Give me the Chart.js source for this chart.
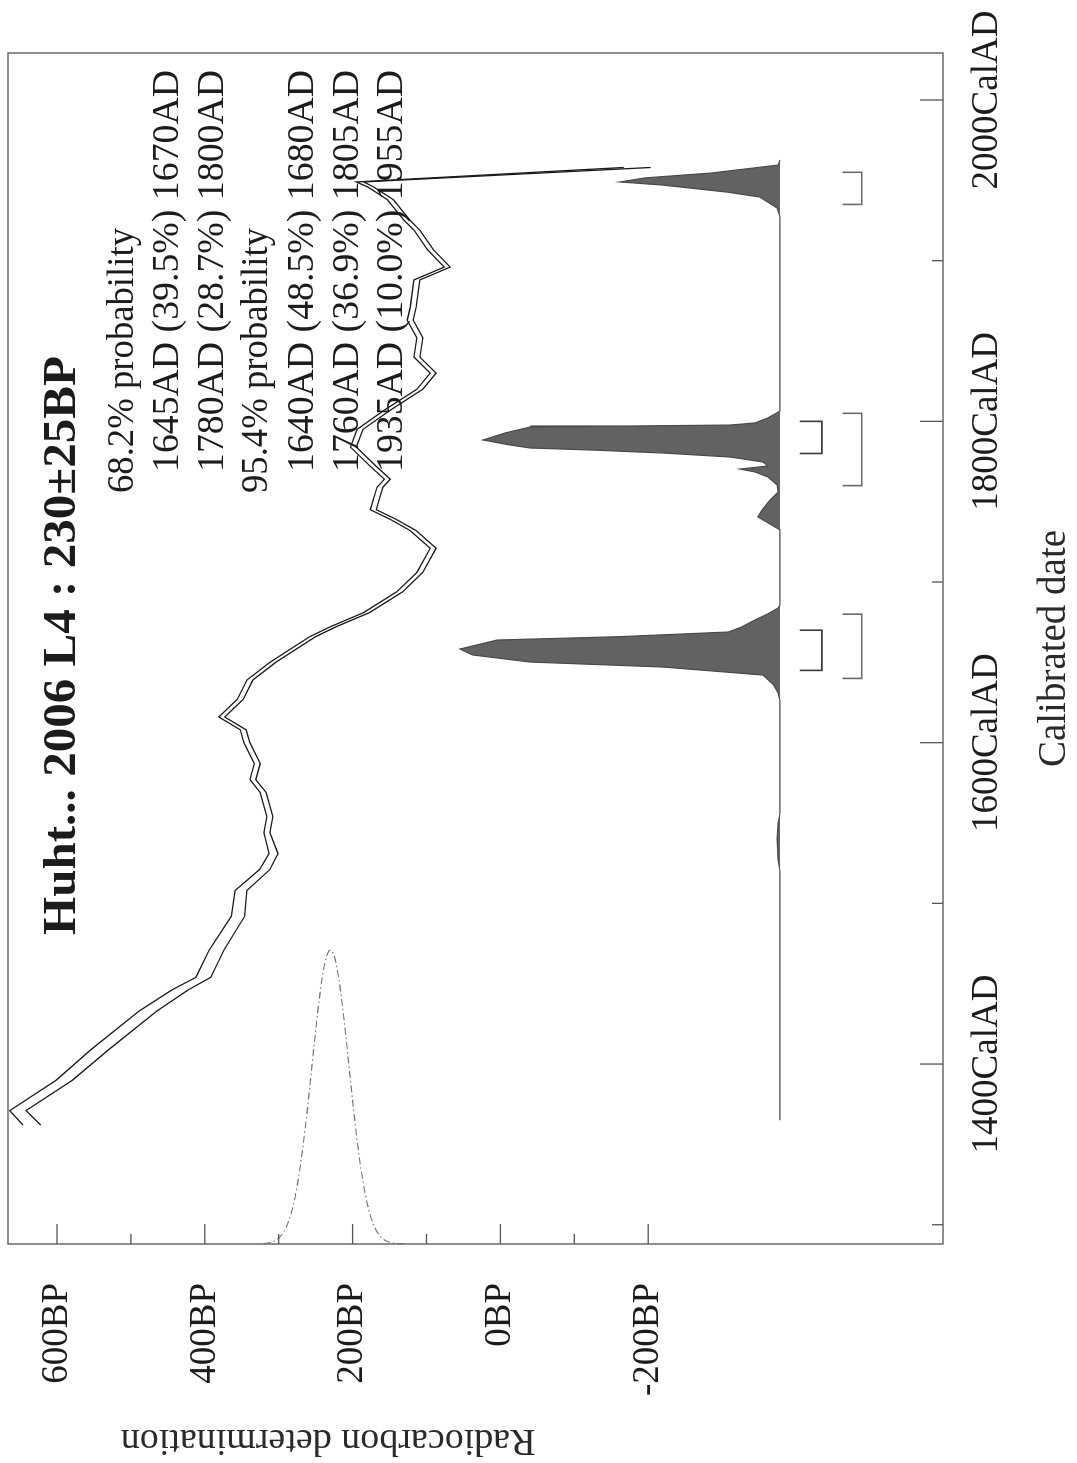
<!DOCTYPE html>
<html>
<head>
<meta charset="utf-8">
<title>Huht... 2006 L4 : 230±25BP</title>
<script src="https://cdn.jsdelivr.net/npm/chart.js@4.4.1/dist/chart.umd.min.js"></script>
<style>
  html, body { margin: 0; padding: 0; background: #ffffff; overflow: hidden; }
  body { width: 1077px; height: 1463px; position: relative; }
  /* the plot is laid out landscape and turned a quarter turn counter-clockwise */
  #wrap {
    position: absolute; left: 0; top: 0;
    width: 1463px; height: 1077px;
    transform-origin: 0 0;
    transform: translate(0px, 1463px) rotate(-90deg);
    background: #ffffff;
  }
</style>
</head>
<body>
<div id="wrap"><canvas id="c" width="1463" height="1077"></canvas></div>
<script>
// ---- sample ----
const sampleName = 'Huht... 2006 L4';
const dateBP = 230;
const dateErr = 25;

// ---- calibration curve (cal AD, BP mean, BP 1 sigma) ----
const calYears    = [1362, 1371, 1390, 1409, 1433, 1446, 1454, 1471, 1492, 1508, 1521, 1531,
                     1544, 1554, 1569, 1577, 1587, 1600, 1608, 1616, 1627, 1639, 1650, 1666,
                     1672, 1681, 1694, 1706, 1721, 1732, 1739, 1745, 1759, 1764, 1772, 1784,
                     1795, 1807, 1820, 1830, 1840, 1852, 1863, 1871, 1888, 1896, 1907, 1919,
                     1925, 1938, 1946, 1949, 1958];
const curveMeanBP = [634, 653, 590, 542, 477, 434, 402, 384, 355, 351, 319, 307,
                     316, 312, 321, 335, 329, 343, 348, 377, 352, 339, 308, 254,
                     227, 181, 136, 109, 91, 118, 145, 172, 163, 153, 172, 199,
                     190, 153, 109, 91, 113, 109, 122, 118, 113, 72, 95, 113,
                     126, 149, 176, 190, -185];
const curveSigmaBP = [12, 11, 11, 12, 12, 11, 10, 10, 9, 8, 7, 6,
                      4, 4, 4, 4, 4, 4, 4, 4, 4, 4, 4, 4,
                      4, 4, 4, 4, 4, 4, 4, 4, 4, 4, 4, 4,
                      4, 4, 4, 4, 4, 4, 4, 4, 4, 4, 4, 4,
                      4, 4, 4, 5, 18];

// ---- calibrated probability (cal AD, relative probability) ----
const probYears   = [1365, 1520, 1527, 1540, 1550, 1556, 1626, 1631, 1636, 1642.1, 1644.6, 1647.1,
                     1650.2, 1654.6, 1658.3, 1663.9, 1666, 1668.9, 1672, 1676.4, 1680, 1683.8, 1685.7,
                     1732.4, 1736.1, 1740.5, 1744.8, 1751, 1756, 1760.4, 1765.4, 1768.5, 1770.3, 1772.2,
                     1774.7, 1777.8, 1780.3, 1782.2, 1783.4, 1785.3, 1788.4, 1792.7, 1796.5, 1797.1,
                     1797.7, 1799, 1802.1, 1806.4, 1927.2, 1932.8, 1939.6, 1942.7, 1947.1, 1949,
                     1951.5, 1954.6, 1959.5, 1962.7];
const probDensity = [0, 0, 0.006, 0.009, 0.006, 0, 0, 0.006, 0.02, 0.053, 0.21, 0.366,
                     0.78, 0.96, 1.0, 0.884, 0.5, 0.16, 0.12, 0.078, 0.04, 0.006, 0,
                     0, 0.031, 0.069, 0.056, 0.031, 0.006, 0.009, 0.038, 0.078, 0.125, 0.038,
                     0.053, 0.156, 0.366, 0.594, 0.78, 0.844, 0.928, 0.86, 0.78, 0.47,
                     0.156, 0.078, 0.038, 0, 0, 0.009, 0.063, 0.166, 0.369, 0.5,
                     0.422, 0.213, 0.006, 0];

// ---- highest probability ranges ----
const range68 = [[1645, 1670], [1780, 1800]];
const range68Pct = [39.5, 28.7];
const range95 = [[1640, 1680], [1760, 1805], [1935, 1955]];
const range95Pct = [48.5, 36.9, 10.0];

// ---- axes ----
const calTickYears = [1300, 1400, 1500, 1600, 1700, 1800, 1900, 2000];
const bpTickValues = [600, 500, 400, 300, 200, 100, 0, -100, -200];

// ---- layout constants (axis units) ----
const X_MIN = 1288, X_MAX = 2029.25;
const Y_MIN = -598.9, Y_MAX = 666.3;
const DIST_BASE = -378.3, DIST_SPAN = 433;     // where the calibrated distribution sits
const GAUSS_HEIGHT = 183;                       // years of width for the BP distribution
const R68_LINE = -435, R68_TICK = -405;
const R95_LINE = -489, R95_TICK = -463;

const SERIF = '"Liberation Serif", "Times New Roman", Times, serif';

function curveLine(sign) {
  return calYears.map((yr, i) => ({ x: yr, y: curveMeanBP[i] + sign * curveSigmaBP[i] }));
}
function distData() {
  return probYears.map((yr, i) => ({ x: yr, y: DIST_BASE + probDensity[i] * DIST_SPAN }));
}
function gaussData() {
  const pts = [];
  for (let bp = dateBP - 4 * dateErr; bp <= dateBP + 4 * dateErr; bp += 2) {
    const z = (bp - dateBP) / dateErr;
    pts.push({ x: X_MIN + GAUSS_HEIGHT * Math.exp(-0.5 * z * z), y: bp });
  }
  return pts;
}
function bracketData(ranges, lineY, tickY) {
  const pts = [];
  ranges.forEach(([a, b]) => {
    pts.push({ x: a, y: tickY }, { x: a, y: lineY }, { x: b, y: lineY }, { x: b, y: tickY }, { x: b, y: null });
  });
  return pts;
}
const fmtPct = v => v.toFixed(1) + '%';

const textLines = [
  { text: '68.2% probability', head: true },
  ...range68.map((r, i) => ({ text: `${r[0]}AD (${fmtPct(range68Pct[i])}) ${r[1]}AD` })),
  { text: '95.4% probability', head: true },
  ...range95.map((r, i) => ({ text: `${r[0]}AD (${fmtPct(range95Pct[i])}) ${r[1]}AD` }))
];

function drawFitted(ctx, text, x, y, font, width) {
  ctx.save();
  ctx.font = font;
  const w = ctx.measureText(text).width;
  ctx.translate(x, y);
  if (width) ctx.scale(width / w, 1);
  ctx.fillText(text, 0, 0);
  ctx.restore();
}

const frameAndText = {
  id: 'frameAndText',
  afterDraw(chart) {
    const ctx = chart.ctx;
    const a = chart.chartArea;
    const xs = chart.scales.x, ys = chart.scales.y;
    ctx.save();
    // frame
    ctx.strokeStyle = '#6a6a6a';
    ctx.lineWidth = 1.5;
    ctx.strokeRect(a.left, a.top, a.right - a.left, a.bottom - a.top);
    // cal date ticks along the bottom, pointing inwards
    ctx.strokeStyle = '#555';
    ctx.lineWidth = 1.3;
    calTickYears.forEach(v => {
      const px = xs.getPixelForValue(v);
      const len = v % 200 === 0 ? 23 : 11;
      ctx.beginPath(); ctx.moveTo(px, a.bottom); ctx.lineTo(px, a.bottom - len); ctx.stroke();
    });
    // BP ticks along the left, pointing inwards
    bpTickValues.forEach(v => {
      const py = ys.getPixelForValue(v);
      const len = v % 200 === 0 ? 20 : 10;
      ctx.beginPath(); ctx.moveTo(a.left, py); ctx.lineTo(a.left + len, py); ctx.stroke();
    });

    ctx.fillStyle = '#1c1c1c';
    ctx.textBaseline = 'alphabetic';
    ctx.textAlign = 'left';
    // title
    drawFitted(ctx, `${sampleName} : ${dateBP}\u00b1${dateErr}BP`, 528, 75, `bold 46px ${SERIF}`, 579);
    // probability ranges
    const baselines = [133, 178, 223, 267, 313, 358, 402];
    textLines.forEach((ln, i) => {
      drawFitted(ctx, ln.text, ln.head ? 970 : 991, baselines[i], `37.5px ${SERIF}`, ln.head ? 265 : 402);
    });
    // axis titles
    ctx.textAlign = 'center';
    ctx.font = `39px ${SERIF}`;
    ctx.fillStyle = '#2a2a2a';
    ctx.fillText('Calibrated date', (a.left + a.right) / 2, 1065);
    ctx.save();
    ctx.translate(33, (a.top + ys.getPixelForValue(-200)) / 2);
    ctx.rotate(-Math.PI / 2);
    ctx.font = `38px ${SERIF}`;
    ctx.fillText('Radiocarbon determination', 0, 0);
    ctx.restore();
    ctx.restore();
  }
};

const lineDefaults = { pointRadius: 0, pointHoverRadius: 0, tension: 0, spanGaps: false };

new Chart(document.getElementById('c'), {
  type: 'line',
  data: {
    datasets: [
      Object.assign({ label: 'curve +1σ', data: curveLine(1), borderColor: '#1a1a1a', borderWidth: 1.3, fill: false }, lineDefaults),
      Object.assign({ label: 'curve -1σ', data: curveLine(-1), borderColor: '#1a1a1a', borderWidth: 1.3, fill: false }, lineDefaults),
      Object.assign({ label: '68.2%', data: bracketData(range68, R68_LINE, R68_TICK), borderColor: '#3a3a3a', borderWidth: 1.6, fill: false }, lineDefaults),
      Object.assign({ label: '95.4%', data: bracketData(range95, R95_LINE, R95_TICK), borderColor: '#6a6a6a', borderWidth: 1.6, fill: false }, lineDefaults),
      Object.assign({ label: 'BP', data: gaussData(), borderColor: '#707070', borderWidth: 1.1, borderDash: [7, 3, 1.5, 3], fill: false }, lineDefaults),
      Object.assign({ label: 'calibrated', data: distData(), borderColor: '#4a4a4a', borderWidth: 1.2,
        backgroundColor: '#626262', fill: { value: DIST_BASE } }, lineDefaults)
    ]
  },
  options: {
    responsive: false,
    devicePixelRatio: 1,
    animation: false,
    parsing: true,
    layout: { padding: { left: 0, top: 8, right: 53, bottom: 0 } },
    plugins: { legend: { display: false }, tooltip: { enabled: false }, title: { display: false } },
    scales: {
      x: {
        type: 'linear', position: 'bottom', min: X_MIN, max: X_MAX,
        grid: { display: false, drawTicks: false }, border: { display: false },
        afterBuildTicks: s => { s.ticks = calTickYears.map(v => ({ value: v })); },
        afterFit: s => { s.height = 134; s.paddingLeft = 0; s.paddingRight = 0; },
        ticks: {
          autoSkip: false, maxRotation: 0, minRotation: 0, padding: 22,
          color: '#1c1c1c', font: { family: SERIF, size: 37 },
          callback: v => (v % 200 === 0 ? v + 'CalAD' : '')
        }
      },
      y: {
        type: 'linear', position: 'left', min: Y_MIN, max: Y_MAX,
        grid: { display: false, drawTicks: false }, border: { display: false },
        afterBuildTicks: s => { s.ticks = bpTickValues.map(v => ({ value: v })); },
        afterFit: s => { s.width = 219; s.paddingTop = 0; s.paddingBottom = 0; },
        ticks: {
          autoSkip: false, padding: 39,
          color: '#1c1c1c', font: { family: SERIF, size: 37 },
          callback: v => (v % 200 === 0 ? v + 'BP' : '')
        }
      }
    }
  },
  plugins: [frameAndText]
});
</script>
</body>
</html>
